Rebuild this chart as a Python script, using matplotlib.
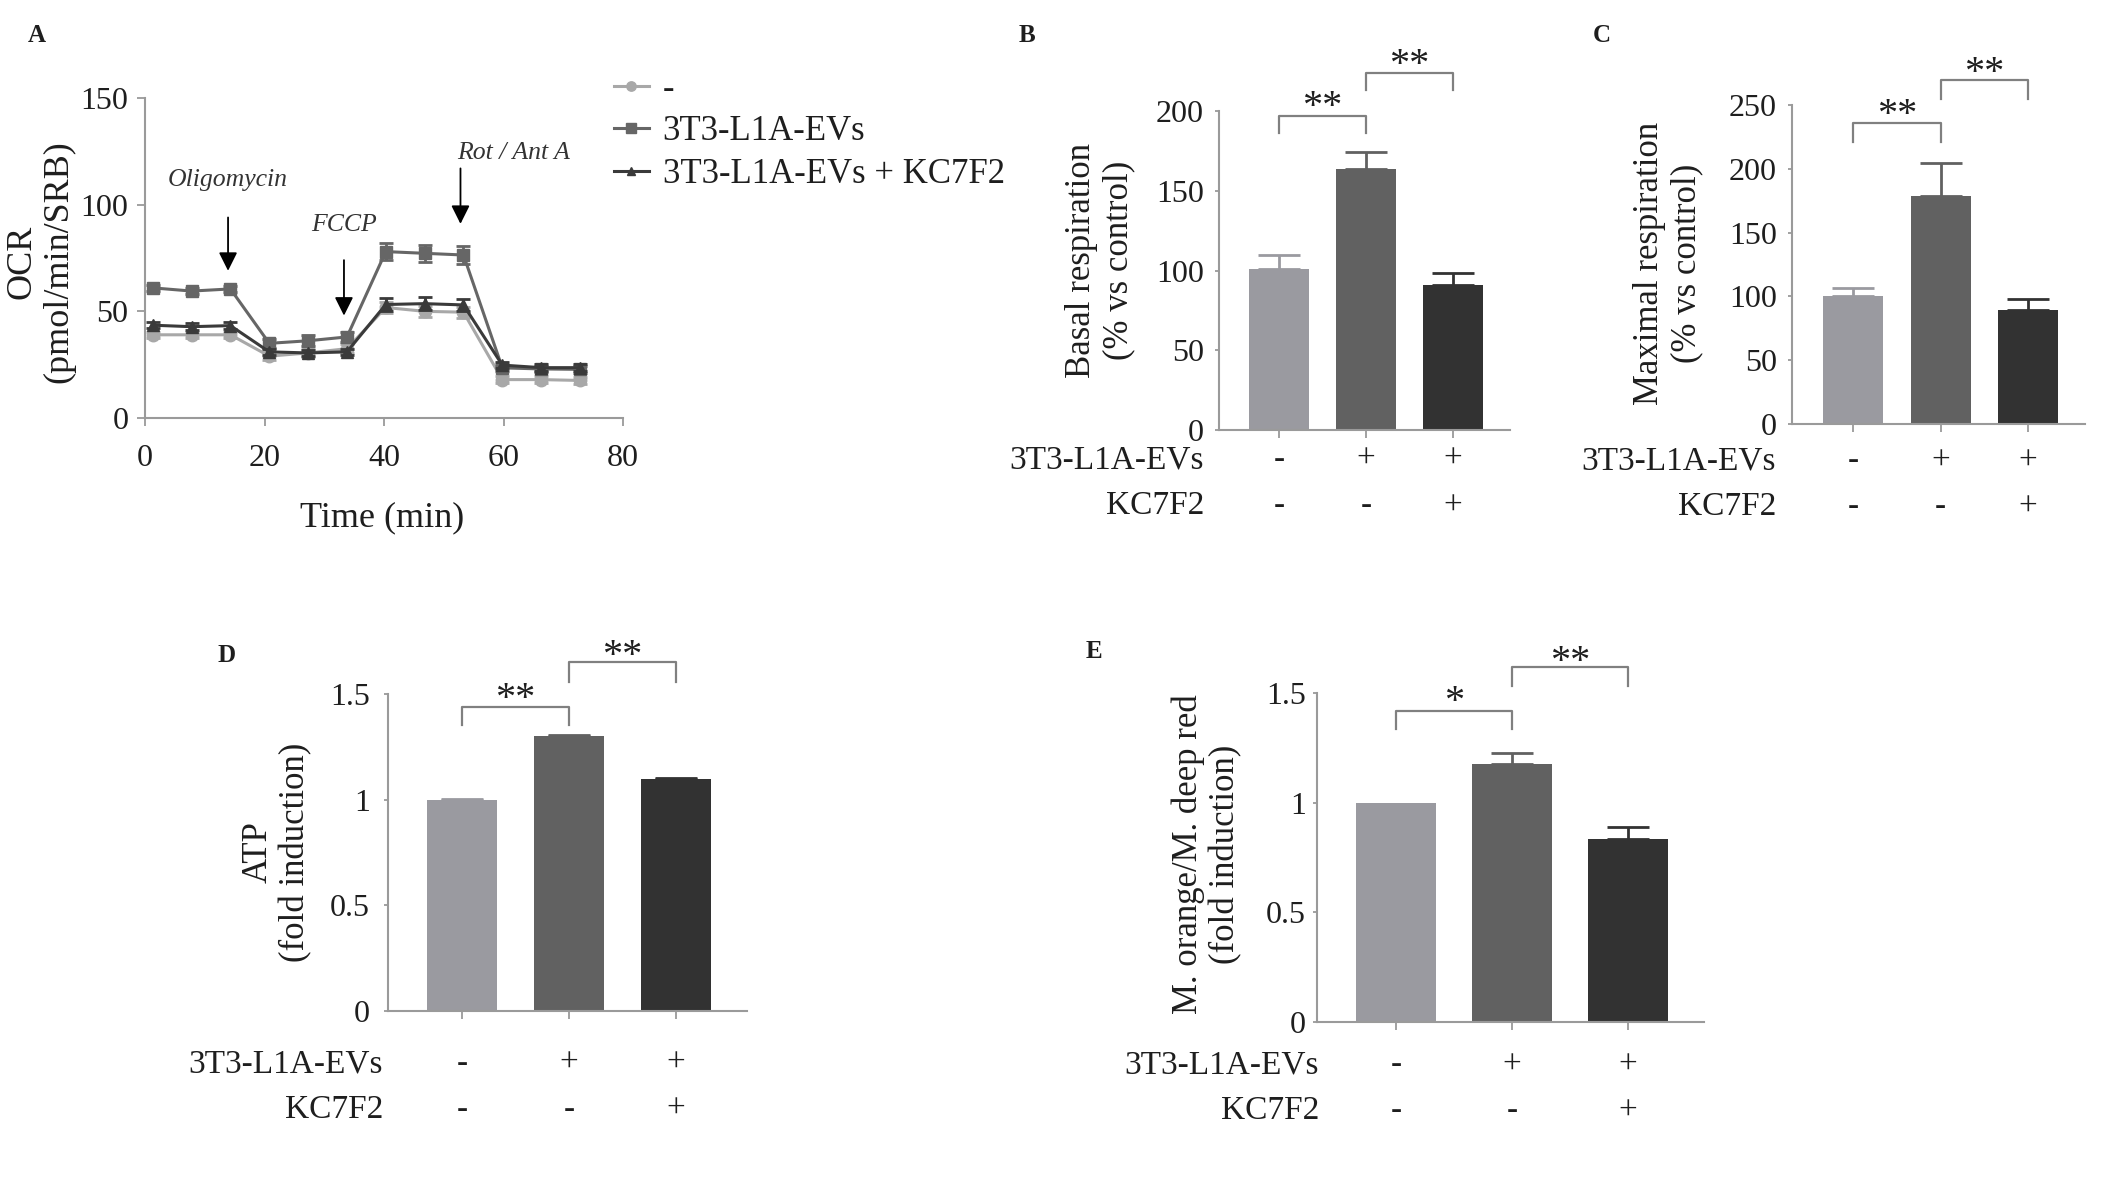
import matplotlib
matplotlib.use("Agg")
import matplotlib.pyplot as plt
import matplotlib.transforms as mtransforms
import numpy as np

plt.rcParams["font.family"] = ["Liberation Serif", "DejaVu Serif"]

W, H = 2126, 1196


def fx(px):
    return px / W


def fy(py):
    return 1 - py / H


# ---- panel A data (Seahorse OCR trace) ----
time_min = [1.3, 7.8, 14.3, 20.8, 27.3, 33.8, 40.3, 46.8, 53.3, 59.8, 66.3, 72.8]
ocr_ctrl = [39, 39, 39, 29, 30.5, 32.5, 51.8, 50, 49.6, 18, 18, 17.6]
ocr_ctrl_err = [1.5, 1.5, 1.5, 2, 2, 2, 2.5, 2.5, 2.5, 1.5, 1.5, 1.5]
ocr_evs = [61, 59.5, 60.5, 35, 36.2, 38, 78, 77.2, 76.4, 23.5, 23, 22.8]
ocr_evs_err = [1.5, 1.5, 1.5, 2, 2.5, 2.5, 4, 4, 4, 1.5, 1.5, 1.5]
ocr_kc = [43.5, 42.8, 43.3, 31, 30.5, 31, 53.2, 53.6, 53, 24.8, 23.6, 23.6]
ocr_kc_err = [1.5, 1.5, 1.5, 1.5, 1.5, 1.5, 3, 3, 3, 1.5, 1.5, 1.5]
series_labels = ["-", "3T3-L1A-EVs", "3T3-L1A-EVs + KC7F2"]

# injections: (label, x, arrow top, arrow tip, text y)
injections = [
    ("Oligomycin", 13.9, 94, 69, 111.5),
    ("FCCP", 33.3, 74, 48, 90.5),
    ("Rot / Ant A", 52.8, 117, 91, 124),
]

# ---- bar panels ----
evs_row = ["-", "+", "+"]
kc_row = ["-", "-", "+"]

basal = [100.8, 163.6, 90.6]
basal_err = [8.8, 11.0, 8.1]

maximal = [100.7, 179.0, 89.6]
maximal_err = [5.7, 25.7, 8.4]

atp = [1.0, 1.30, 1.096]
atp_err = [0.004, 0.006, 0.005]

mito = [1.0, 1.177, 0.835]
mito_err = [0.0, 0.049, 0.055]

bar_colors = ["#9a9aa0", "#616161", "#323232"]
line_colors = ["#a8a8a8", "#666666", "#3a3a3a"]
axis_grey = "#9a9a9a"
txt = "#1e1e1e"

fig = plt.figure(figsize=(W / 100, H / 100), dpi=100)


def style_axes(ax):
    for s in ["top", "right"]:
        ax.spines[s].set_visible(False)
    for s in ["left", "bottom"]:
        ax.spines[s].set_color(axis_grey)
        ax.spines[s].set_linewidth(1.5)


# ================= A =================
axA = fig.add_axes([fx(145), fy(418), fx(623) - fx(145), fy(98) - fy(418)])
style_axes(axA)
markers = ["o", "s", "^"]
msizes = [9, 9, 8]
for vals, errs, c, m, ms, lab in zip(
    [ocr_ctrl, ocr_evs, ocr_kc],
    [ocr_ctrl_err, ocr_evs_err, ocr_kc_err],
    line_colors, markers, msizes, series_labels,
):
    axA.errorbar(time_min, vals, yerr=errs, fmt="none", ecolor=c,
                 elinewidth=2, capsize=5, capthick=2)
    axA.plot(time_min, vals, color=c, marker=m, markersize=ms, lw=2.2,
             label=lab)
axA.set_xlim(0, 80)
axA.set_ylim(0, 150)
axA.set_xticks([0, 20, 40, 60, 80])
axA.set_yticks([0, 50, 100, 150])
axA.tick_params(axis="both", colors=axis_grey, labelcolor=txt, labelsize=23,
                length=6, width=1.3)
axA.tick_params(axis="x", pad=13)
axA.tick_params(axis="y", pad=6)

for name, x, top, tip, ty in injections:
    axA.annotate("", xy=(x, tip), xytext=(x, top),
                 arrowprops=dict(arrowstyle="-|>", color="black", lw=1.3,
                                 mutation_scale=28, shrinkA=0, shrinkB=0))
    ha = "left" if name.startswith("Rot") else "center"
    tx = 52.3 if ha == "left" else x
    axA.text(tx, ty, name, style="italic", fontsize=18.5, color="#333333",
             ha=ha, va="center")

fig.text(fx(40), fy(262), "OCR\n(pmol/min/SRB)", rotation=90, fontsize=26,
         ha="center", va="center", multialignment="center", color=txt,
         linespacing=1.15)
fig.text(fx(382), fy(518), "Time (min)", fontsize=26, ha="center",
         va="center", color=txt)

leg = fig.legend(*axA.get_legend_handles_labels(), loc="upper left",
                 bbox_to_anchor=(fx(614), fy(73)), frameon=False, fontsize=25,
                 handlelength=1.0, handletextpad=0.4, labelspacing=0.27,
                 borderpad=0, borderaxespad=0, markerscale=0.75)
for t in leg.get_texts():
    t.set_color(txt)


# ================= bar panels =================
def bar_panel(rect, xlim, width, vals, errs, ymax, yticks, yticklabels,
              ypad, brackets, row_y, row_right, ylabel, ylab_xy):
    ax = fig.add_axes(rect)
    style_axes(ax)
    xs = np.arange(len(vals))
    ax.bar(xs, vals, width=width, color=bar_colors, zorder=2)
    for xi, v, e, c in zip(xs, vals, errs, bar_colors):
        if e > 0:
            ax.errorbar([xi], [v], yerr=[[0], [e]], fmt="none", ecolor=c,
                        elinewidth=2, capsize=15, capthick=2, zorder=1)
    ax.set_xlim(*xlim)
    ax.set_ylim(0, ymax)
    ax.set_xticks(xs)
    ax.set_xticklabels([])
    ax.set_yticks(yticks)
    ax.set_yticklabels(yticklabels)
    ax.tick_params(axis="x", colors=axis_grey, length=6, width=1.3)
    ax.tick_params(axis="y", colors=axis_grey, labelcolor=txt, labelsize=23,
                   length=3, width=1.3, pad=ypad)

    for (i0, i1, h, leg_y, star, star_y) in brackets:
        ax.plot([i0, i0, i1, i1], [leg_y, h, h, leg_y], color="#808080",
                lw=1.6, clip_on=False)
        # star_y is the centre of the asterisk glyph, which sits high in the line
        ax.annotate(star, xy=((i0 + i1) / 2, star_y), xytext=(0, -12),
                    textcoords="offset points", fontsize=29, ha="center",
                    va="baseline", color=txt, annotation_clip=False)

    trans = mtransforms.blended_transform_factory(ax.transData, fig.transFigure)
    for row, (name, signs) in enumerate([("3T3-L1A-EVs", evs_row),
                                         ("KC7F2", kc_row)]):
        fig.text(fx(row_right), fy(row_y[row]), name, fontsize=24,
                 ha="right", va="center", color=txt)
        for xi, s in zip(xs, signs):
            ax.text(xi, fy(row_y[row]), s, transform=trans, fontsize=24,
                    ha="center", va="center", color=txt)

    fig.text(fx(ylab_xy[0]), fy(ylab_xy[1]), ylabel, rotation=90,
             fontsize=25, ha="center", va="center", multialignment="center",
             color=txt, linespacing=1.15)
    return ax


# B
bar_panel([fx(1219), fy(430), fx(1510) - fx(1219), fy(111) - fy(430)],
          (-0.69, 2.655), 0.69, basal, basal_err, 200,
          [0, 50, 100, 150, 200], ["0", "50", "100", "150", "200"], 8,
          [(0, 1, 197, 186, "**", 207), (1, 2, 224, 213, "**", 233)],
          (460, 506), 1204, "Basal respiration\n(% vs control)", (1100, 260))

# C
bar_panel([fx(1792), fy(424), fx(2085) - fx(1792), fy(105) - fy(424)],
          (-0.697, 2.65), 0.686, maximal, maximal_err, 250,
          [0, 50, 100, 150, 200, 250],
          ["0", "50", "100", "150", "200", "250"], 8,
          [(0, 1, 235.7, 221, "**", 247), (1, 2, 269.4, 255, "**", 280)],
          (461, 507), 1776, "Maximal respiration\n(% vs control)", (1668, 263))

# D
bar_panel([fx(388), fy(1011), fx(747) - fx(388), fy(694) - fy(1011)],
          (-0.692, 2.663), 0.66, atp, atp_err, 1.5,
          [0, 0.5, 1, 1.5], ["0", "0.5", "1", "1.5"], 10,
          [(0, 1, 1.438, 1.353, "**", 1.508), (1, 2, 1.652, 1.557, "**", 1.71)],
          (1064, 1110), 383, "ATP\n(fold induction)", (277, 852))

# E
bar_panel([fx(1317), fy(1022), fx(1704) - fx(1317), fy(693) - fy(1022)],
          (-0.681, 2.655), 0.69, mito, mito_err, 1.5,
          [0, 0.5, 1, 1.5], ["0", "0.5", "1", "1.5"], 5,
          [(0, 1, 1.417, 1.335, "*", 1.49), (1, 2, 1.618, 1.533, "**", 1.674)],
          (1065, 1111), 1319, "M. orange/M. deep red\n(fold induction)",
          (1207, 854))

# panel letters
for letter, px, py in [("A", 37, 36), ("B", 1027, 36), ("C", 1602, 35),
                       ("D", 227, 656), ("E", 1094, 652)]:
    fig.text(fx(px), fy(py), letter, fontsize=18, fontweight="bold",
             ha="center", va="center", color=txt)

fig.savefig("out.png", dpi=100, facecolor="white")
